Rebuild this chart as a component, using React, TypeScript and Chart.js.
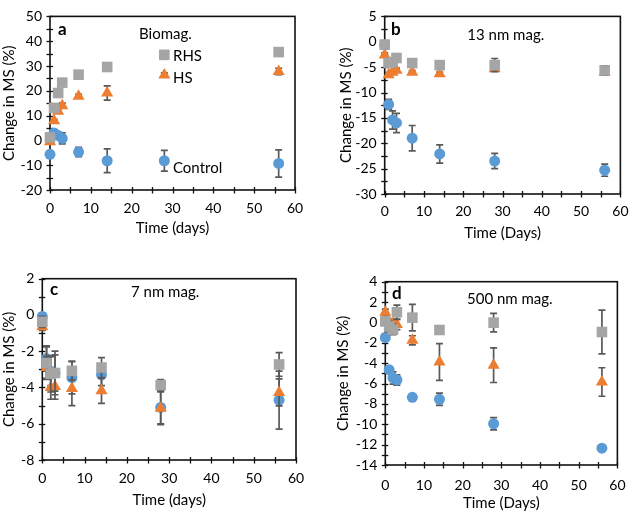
import React, { useEffect, useRef } from "react";
import { Chart, registerables } from "chart.js";

Chart.register(...registerables);

// ---------- data ----------
const DAYS = [0, 1, 2, 3, 7, 14, 28, 56];
const X_TICKS = [0, 10, 20, 30, 40, 50, 60];

// Panel a (Biomag.)
const A_RHS = [1.2, 13.1, 19.1, 23.3, 26.5, 29.6, 34.5, 35.6];
const A_RHS_ERR = [0.5, 0.5, 0.5, 0.6, 1.5, 0.8, 0.6, 0.8];
const A_HS = [-0.5, 7.9, 11.8, 14.0, 17.8, 19.1, 26.4, 27.8];
const A_HS_ERR = [0.5, 0.6, 0.8, 1.0, 0.8, 2.9, 0.8, 1.3];
const A_CTRL = [-5.6, 3.0, 2.0, 0.8, -4.7, -8.2, -8.2, -9.3];
const A_CTRL_ERR = [0.5, 0.6, 1.0, 2.2, 1.9, 4.8, 4.2, 5.5];

// Panel b (13 nm mag.)
const B_RHS = [-0.55, -4.2, -4.0, -3.2, -4.2, -4.6, -4.6, -5.65];
const B_RHS_ERR = [0.5, 0.5, 0.6, 0.8, 0.4, 0.6, 1.3, 0.9];
const B_HS = [-2.6, -6.5, -6.0, -5.6, -6.0, -6.3, -5.3, -6.0];
const B_HS_ERR = [0.4, 0.4, 0.4, 0.4, 0.3, 0.3, 0.3, 0.3];
const B_CTRL = [-0.6, -12.35, -15.4, -16.0, -19.0, -22.1, -23.5, -25.3];
const B_CTRL_ERR = [0.3, 1.0, 1.8, 1.9, 2.5, 1.8, 1.5, 1.2];

// Panel c (7 nm mag.)
const C_RHS = [-0.38, -2.66, -3.25, -3.2, -3.08, -2.9, -3.87, -2.73];
const C_RHS_ERR = [0.3, 0.9, 1.0, 1.0, 0.5, 0.55, 0.3, 0.65];
const C_HS = [-0.65, -2.9, -4.0, -3.95, -4.05, -4.18, -5.15, -4.27];
const C_HS_ERR = [0.2, 0.6, 0.65, 0.7, 0.95, 0.7, 0.9, 0.75];
const C_CTRL = [-0.08, -2.4, -3.1, -3.2, -3.45, -3.3, -5.1, -4.7];
const C_CTRL_ERR = [0.2, 0.7, 0.8, 1.2, 0.9, 0.6, 0.9, 1.6];

// Panel d (500 nm mag.)
const D_RHS = [0.1, -0.4, -0.7, 1.0, 0.47, -0.74, -0.02, -0.94];
const D_RHS_ERR = [0.3, 0.5, 0.5, 0.7, 1.3, 0.3, 0.9, 2.15];
const D_HS = [1.0, 0.0, -0.1, -0.2, -1.76, -3.89, -4.2, -5.85];
const D_HS_ERR = [0.3, 0.3, 0.4, 0.5, 0.45, 1.8, 1.7, 1.4];
const D_CTRL = [-1.5, -4.65, -5.45, -5.65, -7.35, -7.55, -9.95, -12.35];
const D_CTRL_ERR = [0.2, 0.3, 0.6, 0.5, 0.2, 0.6, 0.6, 0.2];

const SERIES_NAMES = ["RHS", "HS", "Control"];

// ---------- styles ----------
const FONT = "Lato, 'Open Sans', sans-serif";
const COLORS = ["#A5A5A5", "#ED7D31", "#5B9BD5"];
const POINT_STYLES = ["rect", "triangle", "circle"];
const POINT_RADII = [7.5, 7, 5.5];
const ERR_COLOR = "#595959";

type Txt = { text: string; dx: number; dy: number; bold?: boolean };
type Panel = {
  left: number;
  top: number;
  yMin: number;
  yMax: number;
  yStep: number;
  xTitle: string;
  values: number[][];
  errors: number[][];
  padTop: number;
  padRight: number;
  yAxisW: number;
  xAxisH: number;
  yTitlePad: number;
  xTitlePad: number;
  xTickPad: number;
  texts: Txt[];
};

const PANELS: Panel[] = [
  {
    left: 0, top: 0, yMin: -20, yMax: 50, yStep: 10, xTitle: "Time (days)",
    values: [A_RHS, A_HS, A_CTRL], errors: [A_RHS_ERR, A_HS_ERR, A_CTRL_ERR],
    padTop: 8, padRight: 24, yAxisW: 50, xAxisH: 66, yTitlePad: 0, xTitlePad: 19, xTickPad: 10.5,
    texts: [
      { text: "a", dx: 8, dy: 13, bold: true },
      { text: "Biomag.", dx: 89, dy: 18 },
      { text: "RHS", dx: 123, dy: 40 },
      { text: "HS", dx: 123, dy: 62 },
      { text: "Control", dx: 123, dy: 152 },
    ],
  },
  {
    left: 319, top: 0, yMin: -30, yMax: 5, yStep: 5, xTitle: "Time (Days)",
    values: [B_RHS, B_HS, B_CTRL], errors: [B_RHS_ERR, B_HS_ERR, B_CTRL_ERR],
    padTop: 11, padRight: 8, yAxisW: 65.7, xAxisH: 62, yTitlePad: 17.7, xTitlePad: 14, xTickPad: 9.5,
    texts: [
      { text: "b", dx: 6.3, dy: 13, bold: true },
      { text: "13 nm mag.", dx: 82.6, dy: 19 },
    ],
  },
  {
    left: 0, top: 256, yMin: -8, yMax: 2, yStep: 2, xTitle: "Time (days)",
    values: [C_RHS, C_HS, C_CTRL], errors: [C_RHS_ERR, C_HS_ERR, C_CTRL_ERR],
    padTop: 22.7, padRight: 23, yAxisW: 42.3, xAxisH: 52, yTitlePad: 0, xTitlePad: 3, xTickPad: 10.5,
    texts: [
      { text: "c", dx: 7.7, dy: 11, bold: true },
      { text: "7 nm mag.", dx: 88.7, dy: 13 },
    ],
  },
  {
    left: 319, top: 256, yMin: -14, yMax: 4, yStep: 2, xTitle: "Time (Days)",
    values: [D_RHS, D_HS, D_CTRL], errors: [D_RHS_ERR, D_HS_ERR, D_CTRL_ERR],
    padTop: 25.7, padRight: 8, yAxisW: 66.3, xAxisH: 47, yTitlePad: 15, xTitlePad: 0, xTickPad: 12.5,
    texts: [
      { text: "d", dx: 6.7, dy: 11.8, bold: true },
      { text: "500 nm mag.", dx: 81.7, dy: 17.8 },
    ],
  },
];

const panelPlugin = {
  id: "panelDeco",
  beforeDatasetsDraw(chart: any) {
    const { ctx, chartArea, scales } = chart;
    const { left, right, top, bottom } = chartArea;
    const y = scales.y;
    const x = scales.x;
    ctx.save();
    ctx.strokeStyle = "#111";
    ctx.lineWidth = 1.6;
    ctx.strokeRect(left, top, right - left, bottom - top);
    ctx.lineWidth = 1.3;
    const ystep = y.options.ticks.stepSize / 2;
    for (let v = y.min; v <= y.max + 1e-9; v += ystep) {
      const p = Math.round(y.getPixelForValue(v)) + 0.5;
      ctx.beginPath();
      ctx.moveTo(left - 3.5, p);
      ctx.lineTo(left + 3, p);
      ctx.stroke();
    }
    for (let v = x.min; v <= x.max + 1e-9; v += 5) {
      const p = Math.round(x.getPixelForValue(v)) + 0.5;
      ctx.beginPath();
      ctx.moveTo(p, bottom - 3);
      ctx.lineTo(p, bottom + 3.5);
      ctx.stroke();
    }
    ctx.restore();
  },
  beforeDatasetDraw(chart: any, args: any) {
    const ds = chart.data.datasets[args.index];
    const errs: number[] = ds.errors || [];
    const y = chart.scales.y;
    const ctx = chart.ctx;
    ctx.save();
    ctx.strokeStyle = ERR_COLOR;
    ctx.lineWidth = 1.7;
    args.meta.data.forEach((pt: any, i: number) => {
      const v = ds.data[i].y;
      const e = errs[i];
      if (!e) return;
      const px = pt.x;
      const yt = y.getPixelForValue(v + e);
      const yb = y.getPixelForValue(v - e);
      ctx.beginPath();
      ctx.moveTo(px, yt);
      ctx.lineTo(px, yb);
      ctx.moveTo(px - 3.5, yt);
      ctx.lineTo(px + 3.5, yt);
      ctx.moveTo(px - 3.5, yb);
      ctx.lineTo(px + 3.5, yb);
      ctx.stroke();
    });
    ctx.restore();
  },
  afterDraw(chart: any) {
    const texts: Txt[] = chart.options.plugins.panelDeco.texts;
    const { ctx, chartArea } = chart;
    ctx.save();
    ctx.fillStyle = "#000";
    ctx.textAlign = "left";
    ctx.textBaseline = "middle";
    texts.forEach((t) => {
      ctx.font = `${t.bold ? "bold 17px" : "15px"} ${FONT}`;
      ctx.fillText(t.text, chartArea.left + t.dx, chartArea.top + t.dy);
    });
    ctx.restore();
  },
};

function PanelChart({ cfg }: { cfg: Panel }) {
  const ref = useRef<HTMLCanvasElement>(null);
  useEffect(() => {
    if (!ref.current) return;
    const datasets = SERIES_NAMES.map((name, k) => ({
      label: name,
      data: DAYS.map((d, i) => ({ x: d, y: cfg.values[k][i] })),
      errors: cfg.errors[k],
      pointStyle: POINT_STYLES[k],
      pointRadius: POINT_RADII[k],
      pointHoverRadius: POINT_RADII[k],
      backgroundColor: COLORS[k],
      borderColor: COLORS[k],
      pointBorderWidth: 0,
      borderWidth: 0,
      showLine: false,
      clip: false,
    }));
    const tickFont = { family: FONT, size: 14 };
    const titleFont = { family: FONT, size: 15 };
    const chart = new Chart(ref.current, {
      type: "scatter",
      data: { datasets } as any,
      options: {
        responsive: true,
        maintainAspectRatio: false,
        animation: false,
        layout: { padding: { top: cfg.padTop, right: cfg.padRight, bottom: 0, left: 0 } },
        plugins: {
          legend: { display: false },
          tooltip: { enabled: false },
          panelDeco: { texts: cfg.texts },
        } as any,
        scales: {
          x: {
            type: "linear",
            min: 0,
            max: 60,
            afterBuildTicks: (s: any) => {
              s.ticks = X_TICKS.map((v) => ({ value: v }));
            },
            ticks: { padding: cfg.xTickPad, color: "#000", font: tickFont, maxRotation: 0 },
            grid: { display: false, drawTicks: false },
            border: { display: false },
            title: {
              display: true,
              text: cfg.xTitle,
              color: "#000",
              font: titleFont,
              padding: { top: 0, bottom: cfg.xTitlePad },
            },
            afterFit: (s: any) => {
              s.height = cfg.xAxisH;
            },
          },
          y: {
            type: "linear",
            min: cfg.yMin,
            max: cfg.yMax,
            ticks: { stepSize: cfg.yStep, padding: 8, color: "#000", font: tickFont },
            grid: { display: false, drawTicks: false },
            border: { display: false },
            title: {
              display: true,
              text: "Change in MS (%)",
              color: "#000",
              font: titleFont,
              padding: { top: cfg.yTitlePad, bottom: 0 },
            },
            afterFit: (s: any) => {
              s.width = cfg.yAxisW;
            },
          },
        },
      } as any,
      plugins: [panelPlugin as any],
    });
    return () => chart.destroy();
  }, [cfg]);
  return (
    <div
      style={{
        position: "absolute",
        left: cfg.left,
        top: cfg.top,
        width: 319,
        height: 256,
      }}
    >
      <canvas ref={ref} />
    </div>
  );
}

export default function App() {
  return (
    <div
      style={{
        position: "absolute",
        left: 0,
        top: 0,
        width: 638,
        height: 512,
        background: "#fff",
      }}
    >
      {PANELS.map((p, i) => (
        <PanelChart key={i} cfg={p} />
      ))}
    </div>
  );
}
